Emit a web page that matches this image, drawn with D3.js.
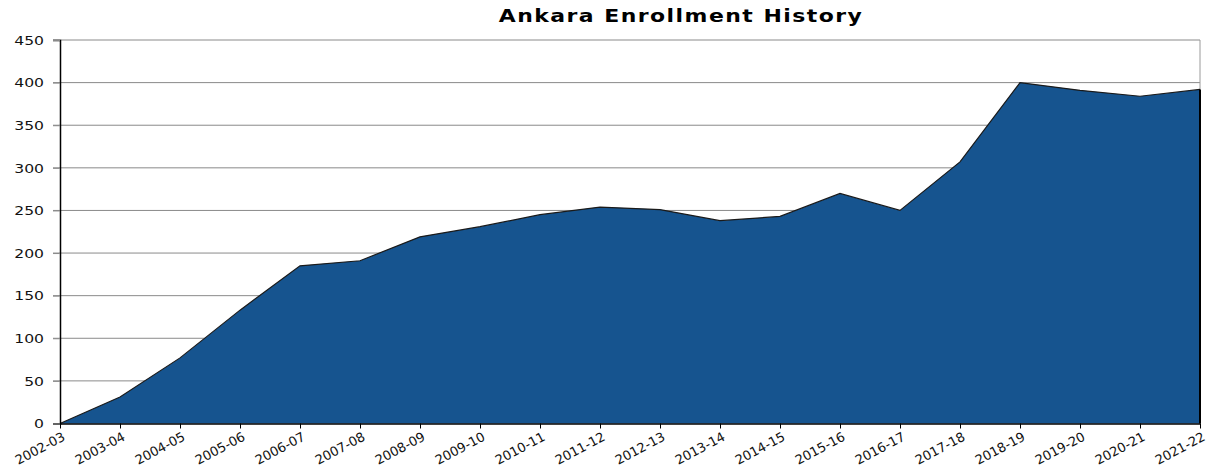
<!DOCTYPE html>
<html><head><meta charset="utf-8">
<script src="https://cdn.jsdelivr.net/npm/d3@7"></script>
<style>body{margin:0;background:#fff}svg{display:block}</style>
</head><body>
<script>
const categories = ["2002-03","2003-04","2004-05","2005-06","2006-07","2007-08","2008-09","2009-10","2010-11","2011-12","2012-13","2013-14","2014-15","2015-16","2016-17","2017-18","2018-19","2019-20","2020-21","2021-22"];
const enrollment = [0,31,77,133,185,191,219,231,245,254,251,238,243,270,250,307,400,391,384,392];
const yTicks = [0,50,100,150,200,250,300,350,400,450];
const title = "Ankara Enrollment History";

const W = 1212, H = 470;
const m = {left:60, right:12, top:40, bottom:46.5};
const sx = 1.2; // horizontal stretch of the reference's text
const svg = d3.select("body").append("svg").attr("width",W).attr("height",H);
const x = d3.scalePoint().domain(categories).range([m.left, W - m.right]);
const y = d3.scaleLinear().domain([0,450]).range([H - m.bottom, m.top]);

// gridlines
svg.append("g").selectAll("line").data(yTicks.filter(d=>d>0)).join("line")
  .attr("x1", m.left - 7).attr("x2", W - m.right)
  .attr("y1", d=>y(d)).attr("y2", d=>y(d))
  .attr("stroke", "#8a8a8a").attr("stroke-width", 1);
// right border
svg.append("line").attr("x1", W-m.right).attr("x2", W-m.right).attr("y1", y(450)).attr("y2", y(0))
  .attr("stroke","#9a9a9a");

// area
const area = d3.area().x((d,i)=>x(categories[i])).y0(y(0)).y1(d=>y(d));
svg.append("path").datum(enrollment).attr("d", area).attr("fill", "#16548f");
const line = d3.line().x((d,i)=>x(categories[i])).y(d=>y(d));
svg.append("path").datum(enrollment).attr("d", line).attr("fill","none").attr("stroke","#1a1a1a").attr("stroke-width",1.2);
svg.append("line").attr("x1", W-m.right).attr("x2", W-m.right).attr("y1", y(enrollment[enrollment.length-1])).attr("y2", y(0))
  .attr("stroke","#000").attr("stroke-width",2);

// y axis
const ya = svg.append("g").attr("transform",`translate(${m.left},0)`)
  .call(d3.axisLeft(y).tickValues(yTicks).tickSize(7).tickPadding(9));
ya.select(".domain").attr("stroke","#000").attr("stroke-width",1.5);
ya.selectAll(".tick line").attr("stroke","#8a8a8a");
ya.selectAll("text").attr("font-family","DejaVu Sans").attr("font-size",13).attr("fill","#111")
  .attr("x",0).attr("transform",`translate(-16,0) scale(${sx},1)`);

// x axis
const xa = svg.append("g").attr("transform",`translate(0,${y(0)})`)
  .call(d3.axisBottom(x).tickSize(5).tickSizeOuter(0));
xa.select(".domain").attr("stroke","#000").attr("stroke-width",1.5);
xa.selectAll(".tick line").attr("stroke","#000");
xa.selectAll("text").attr("font-family","DejaVu Sans").attr("font-size",13).attr("fill","#111")
  .attr("text-anchor","end").attr("dy",null).attr("dx",null)
  .attr("transform",`translate(4,13) rotate(-28)`).attr("y",0).attr("x",0).attr("dominant-baseline","middle");

svg.append("text").attr("transform",`translate(681,22) scale(1.22,1)`).attr("text-anchor","middle")
  .attr("font-family","DejaVu Sans").attr("font-weight","bold").attr("font-size",18)
  .attr("letter-spacing",1.2).attr("fill","#000").text(title);
</script>
</body></html>
